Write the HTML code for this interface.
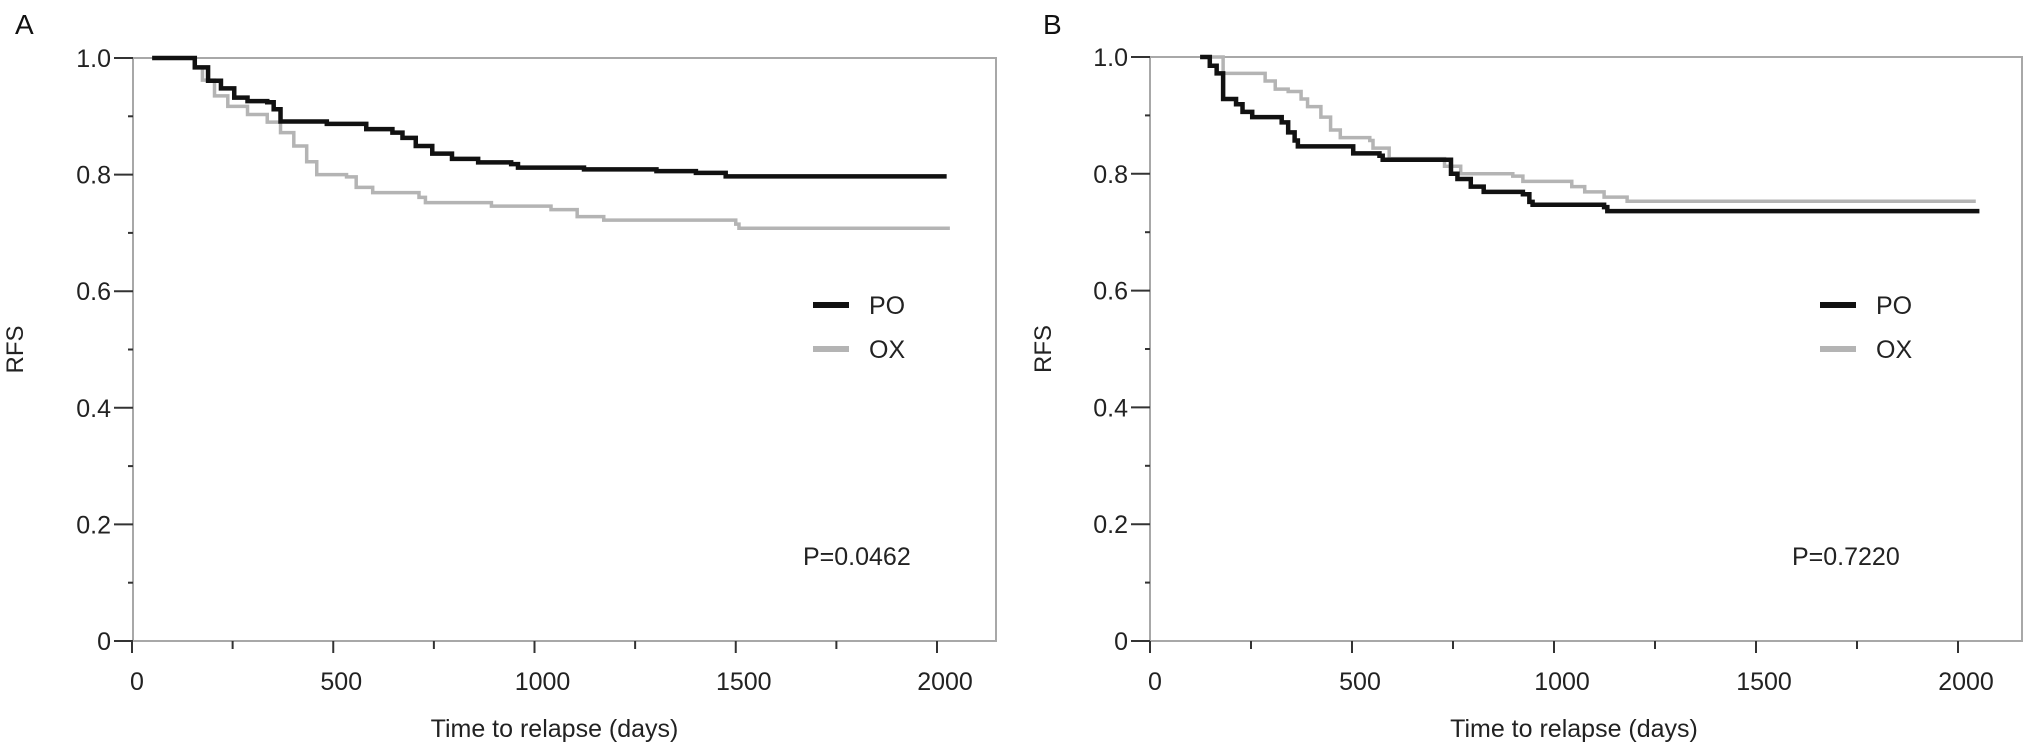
<!DOCTYPE html>
<html><head><meta charset="utf-8"><style>
html,body{margin:0;padding:0;background:#fff;}
svg{display:block;font-family:"Liberation Sans",sans-serif;}
</style></head><body>
<svg id="chart" width="2031" height="754" viewBox="0 0 2031 754"></svg>
<script>
// Panel A data
const aPoTimes=[50,131,156,189,221,254,287,336,352,369,484,582,647,672,705,746,795,860,942,959,1123,1303,1401,1475,2024];
const aPoSurv=[1,1,0.984,0.961,0.948,0.932,0.926,0.924,0.912,0.891,0.887,0.878,0.872,0.863,0.849,0.836,0.827,0.821,0.818,0.812,0.809,0.806,0.803,0.797,0.797];
const aOxTimes=[66,131,156,175,205,238,287,336,369,402,434,459,533,557,598,713,729,893,1041,1106,1172,1500,1508,2032];
const aOxSurv=[1,1,0.984,0.962,0.935,0.917,0.903,0.89,0.872,0.849,0.822,0.8,0.796,0.778,0.769,0.761,0.752,0.746,0.74,0.728,0.722,0.715,0.708,0.708];
// Panel B data
const bPoTimes=[124,148,165,181,213,229,253,326,342,358,366,495,503,568,576,729,745,761,794,826,923,939,947,1124,1132,2053];
const bPoSurv=[1,0.985,0.972,0.928,0.919,0.906,0.897,0.888,0.871,0.857,0.847,0.847,0.835,0.831,0.824,0.824,0.8,0.791,0.778,0.769,0.765,0.752,0.747,0.743,0.736,0.736];
const bOxTimes=[124,181,277,285,310,342,374,390,423,447,471,544,552,592,721,729,769,898,923,1044,1076,1124,1181,2044];
const bOxSurv=[1,0.972,0.972,0.959,0.945,0.941,0.928,0.915,0.897,0.875,0.862,0.857,0.844,0.826,0.826,0.813,0.8,0.796,0.787,0.778,0.769,0.76,0.753,0.753];
const xTicks=[0,500,1000,1500,2000];
const yTicks=[0,0.2,0.4,0.6,0.8,1.0];
const yTickLabels=["0","0.2","0.4","0.6","0.8","1.0"];

const NS="http://www.w3.org/2000/svg";
const svg=document.getElementById('chart');
function mk(tag,attrs,parent){const e=document.createElementNS(NS,tag);for(const k in attrs)e.setAttribute(k,attrs[k]);(parent||svg).appendChild(e);return e;}

function panel(p){
  const g=mk('g',{});
  
  
  const xs=d=>p.x0+d*(p.x2000-p.x0)/2000;
  const ys=v=>p.yBot-v*(p.yBot-p.yTop);
  const frame=mk('rect',{x:p.fl,y:p.yTop,width:p.fr-p.fl,height:p.yBot-p.yTop,fill:'none',stroke:'#a8a8a8','stroke-width':2},g);
  
  
  const lab=mk('text',{x:p.labX,y:34,'font-size':28,fill:'#111'},g);lab.textContent=p.id.toUpperCase();
  
  
  for(let d=0;d<=2000;d+=250){mk('line',{x1:xs(d),x2:xs(d),y1:p.yBot,y2:p.yBot+(d%500===0?12:8),stroke:'#333','stroke-width':2},g);}
  xTicks.forEach(d=>{const t=mk('text',{x:xs(d)+(d===0?5:8),y:p.yBot+49,'font-size':25,'text-anchor':'middle',fill:'#222'},g);t.textContent=d;
    
    });
  for(let i=1;i<10;i+=2){mk('line',{x1:p.fl-5,x2:p.fl,y1:ys(i/10),y2:ys(i/10),stroke:'#333','stroke-width':2},g);}
  yTicks.forEach((v,i)=>{mk('line',{x1:p.fl-19,x2:p.fl,y1:ys(v),y2:ys(v),stroke:'#333','stroke-width':2},g);
    const t=mk('text',{x:p.fl-22,y:ys(v)+9,'font-size':25,'text-anchor':'end',fill:'#222'},g);t.textContent=yTickLabels[i];
    
    });
  const yt=mk('text',{x:0,y:0,'font-size':24,'text-anchor':'middle',fill:'#222',transform:`translate(${p.labX+8},${ys(0.5)}) rotate(-90)`},g);yt.textContent='RFS';
  
  
  const xt=mk('text',{x:(p.x0+p.x2000)/2+20,y:737,'font-size':25,'text-anchor':'middle',fill:'#222'},g);xt.textContent='Time to relapse (days)';
  
  
  function step(ts,vs,color,w,name){let d=`M${xs(ts[0])},${ys(vs[0])}`;for(let i=1;i<ts.length;i++){d+=`H${xs(ts[i])}V${ys(vs[i])}`;}
    const pa=mk('path',{d:d,fill:'none',stroke:color,'stroke-width':w},g);
    
    }
  step(p.oxT,p.oxS,'#b4b4b4',3.5,'ox-curve');
  step(p.poT,p.poS,'#111',4.5,'po-curve');
  [['PO','#111',305],['OX','#b4b4b4',349]].forEach(([n,c,y])=>{
    const l=mk('line',{x1:p.legX,x2:p.legX+36,y1:y,y2:y,stroke:c,'stroke-width':6},g);
    
    
    const t=mk('text',{x:p.legX+56,y:y+9,'font-size':25,fill:'#222'},g);t.textContent=n;
    
    });
  const pv=mk('text',{x:p.pX,y:565,'font-size':25,fill:'#222'},g);pv.textContent=p.pText;
  
  
}
panel({id:'a',x0:132,x2000:937,fl:133,fr:996,yTop:58,yBot:641,labX:15,legX:813,pX:803,pText:'P=0.0462',poT:aPoTimes,poS:aPoSurv,oxT:aOxTimes,oxS:aOxSurv});
panel({id:'b',x0:1150,x2000:1958,fl:1150,fr:2022,yTop:57,yBot:641,labX:1043,legX:1820,pX:1792,pText:'P=0.7220',poT:bPoTimes,poS:bPoSurv,oxT:bOxTimes,oxS:bOxSurv});
</script>
</body></html>
